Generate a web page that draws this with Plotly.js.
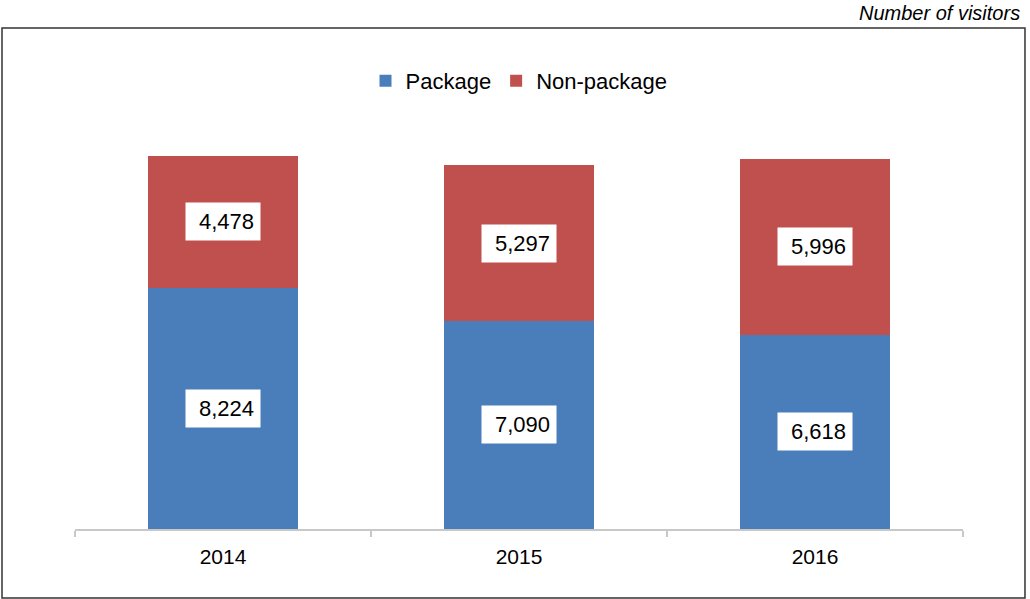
<!DOCTYPE html>
<html>
<head>
<meta charset="utf-8">
<script src="https://cdn.plot.ly/plotly-3.0.1.min.js"></script>
<style>html,body{margin:0;padding:0;background:#fff;}#chart{width:1030px;height:599px;}</style>
</head>
<body>
<div id="chart"></div>
<script>
const years = ["2014", "2015", "2016"];
const packageVals = [8224, 7090, 6618];
const nonPackageVals = [4478, 5297, 5996];
const seriesNames = ["Package", "Non-package"];
const unitLabel = "Number of visitors";

const FONT = "Liberation Sans, Arial, Helvetica, sans-serif";
const fmt = v => v.toLocaleString("en-US");

const traces = [
  {type: "bar", name: seriesNames[0], x: years, y: packageVals, marker: {color: "#4A7EBB"}, hoverinfo: "y"},
  {type: "bar", name: seriesNames[1], x: years, y: nonPackageVals, marker: {color: "#C0504D"}, hoverinfo: "y"}
];

const labelStyle = {showarrow: false, bgcolor: "#ffffff", font: {family: FONT, size: 22, color: "#000"},
  width: 62, height: 25, borderpad: 6, align: "right", xref: "x", yref: "y"};
const annotations = [];
years.forEach((yr, i) => {
  annotations.push(Object.assign({x: i, y: packageVals[i] / 2, text: fmt(packageVals[i])}, labelStyle));
  annotations.push(Object.assign({x: i, y: packageVals[i] + nonPackageVals[i] / 2, text: fmt(nonPackageVals[i])}, labelStyle));
});
annotations.push({x: 1.0665, y: 1.256, xref: "paper", yref: "paper", xanchor: "right", yanchor: "middle",
  text: "<i>" + unitLabel + "</i>", showarrow: false, font: {family: FONT, size: 20, color: "#000"}});

const layout = {
  width: 1030, height: 599,
  margin: {l: 75, r: 67, t: 118, b: 70},
  paper_bgcolor: "#fff", plot_bgcolor: "#fff",
  barmode: "stack", bargap: 0.493,
  showlegend: true,
  legend: {orientation: "h", x: 0.5, xanchor: "center", y: 1.09, yanchor: "middle",
    font: {family: FONT, size: 22, color: "#000"}, itemwidth: 30, traceorder: "normal"},
  xaxis: {type: "category", range: [-0.5, 2.5], autorange: false, showline: true, linecolor: "#C8C8C8", linewidth: 1.5,
    ticks: "outside", tickson: "boundaries", ticklen: 6, tickcolor: "#C8C8C8", tickwidth: 1.5, tickangle: 0,
    ticklabelstandoff: 8,
    tickfont: {family: FONT, size: 21, color: "#000"}, showgrid: false, zeroline: false, fixedrange: true},
  yaxis: {range: [0, 14000], autorange: false, visible: false, showgrid: false, zeroline: false, fixedrange: true},
  annotations: annotations,
  shapes: [{type: "rect", xref: "paper", yref: "paper", x0: -0.0822, x1: 1.0698, y0: -0.1679, y1: 1.219,
    line: {color: "#333", width: 1.5}, fillcolor: "rgba(0,0,0,0)", layer: "below"}]
};

Plotly.newPlot("chart", traces, layout, {displayModeBar: false, staticPlot: true});
</script>
</body>
</html>
